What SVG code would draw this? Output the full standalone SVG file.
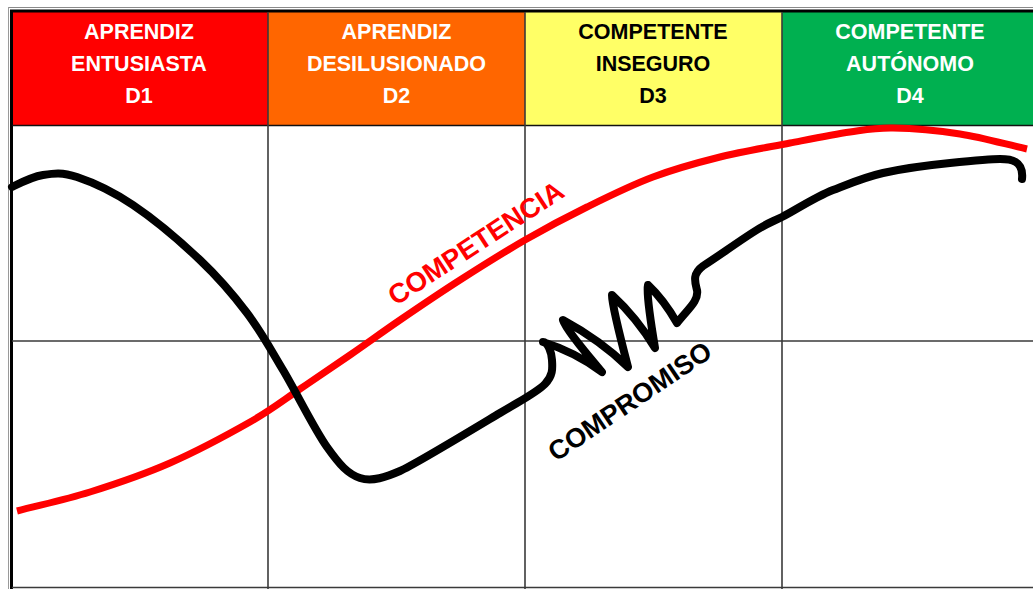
<svg xmlns="http://www.w3.org/2000/svg" width="1033" height="589" viewBox="0 0 1033 589">
<style>
.hd{font-family:"Liberation Sans",Arial,sans-serif;font-weight:bold;font-size:21.5px;text-anchor:middle}
.w{fill:#ffffff}
.k{fill:#000000}
.grid{stroke:#3a3a3a;stroke-width:1.6;fill:none}
.lbl{font-family:"Liberation Sans",Arial,sans-serif;font-weight:bold;text-anchor:middle}
</style>
<rect x="0" y="0" width="1033" height="589" fill="#ffffff"/>
<g id="frame">
<line x1="8" y1="7.5" x2="1033" y2="7.5" stroke="#8a8a8a" stroke-width="1"/>
<line x1="8.5" y1="7" x2="8.5" y2="589" stroke="#9a9a9a" stroke-width="1"/>
</g>
<g id="d1">
<rect x="12" y="12" width="256" height="113" fill="#ff0000"/>
<text class="hd w" x="139" y="39">APRENDIZ</text>
<text class="hd w" x="139" y="71">ENTUSIASTA</text>
<text class="hd w" x="139" y="103">D1</text>
</g>
<g id="d2">
<rect x="268" y="12" width="257" height="113" fill="#ff6600"/>
<text class="hd w" x="396.5" y="39">APRENDIZ</text>
<text class="hd w" x="396.5" y="71">DESILUSIONADO</text>
<text class="hd w" x="396.5" y="103">D2</text>
</g>
<g id="d3">
<rect x="525" y="12" width="257" height="113" fill="#ffff66"/>
<text class="hd k" x="653" y="39">COMPETENTE</text>
<text class="hd k" x="653" y="71">INSEGURO</text>
<text class="hd k" x="653" y="103">D3</text>
</g>
<g id="d4">
<rect x="782" y="12" width="251" height="113" fill="#00b050"/>
<text class="hd w" x="910" y="39">COMPETENTE</text>
<text class="hd w" x="910" y="71">AUTÓNOMO</text>
<text class="hd w" x="910" y="103">D4</text>
</g>
<g id="grid">
<line x1="10" y1="11" x2="1033" y2="11" stroke="#000" stroke-width="3"/>
<line x1="11.5" y1="10" x2="11.5" y2="589" stroke="#000" stroke-width="3"/>
<line x1="12" y1="125.5" x2="1033" y2="125.5" stroke="#111" stroke-width="1.6"/>
<line class="grid" x1="268" y1="12" x2="268" y2="589"/>
<line class="grid" x1="525" y1="12" x2="525" y2="589"/>
<line class="grid" x1="782" y1="12" x2="782" y2="589"/>
<line class="grid" x1="12" y1="341" x2="1033" y2="341"/>
<line class="grid" x1="12" y1="587.5" x2="1033" y2="587.5"/>
</g>
<g id="curves">
<path id="competencia" fill="none" stroke="#ff0000" stroke-width="7" stroke-linecap="butt" d="M17,511 C41.3,504.7 64.5,500 90,492 S143.3,474.7 170,463 S228.3,434.3 250,422 S283.3,400.2 300,389 S333.3,366.5 350,355 S381.7,332.5 400,320 S439.2,293.3 460,280 S503.8,252.2 525,240 S565.7,217.5 587,207 S630.8,185.3 653,177 S697.2,162.7 720,157 S768.3,147.2 790,143 S832.8,134.5 850,132 S874.7,127.7 893,128 S937.7,130.5 960,134 S1004.7,144 1027,149"/>
<path id="compromiso" fill="none" stroke="#000000" stroke-width="8" stroke-linecap="round" stroke-linejoin="round" d="M12,187 C22,182 32.2,176.7 43,175 S62,172 77,177 S112.5,191.2 133,205 S181,242 200,260 S233.2,294.7 247,313 S269.7,347.7 283,370 S314.2,429 327,447 S347.8,474 360,478 S386,477 400,471 S475.8,427.5 500,413 S536.3,392.8 545,384 S552.3,367 552,360 S548,342 543,342 Q575,352 602,372 Q566,330 563,320 Q600,340 628,367 Q612,306 612,295 Q637,318 655,348 Q646,294 648,285 Q664,300 677,323 C688,309 699,301 697,290 C695,282 692,274 703,266 C720,255 735,244 752,233 S770,223 782,217 S815,197 833,190 S865,177 883,173 S930,165 950,163 S990,159 1000,159 C1010,159 1024,160 1022,179"/>
</g>
<g id="labels">
<text class="lbl" x="481" y="251" font-size="27.5" fill="#ff0000" transform="rotate(-33 481 251)">COMPETENCIA</text>
<text class="lbl" x="635" y="409" font-size="27" fill="#000000" transform="rotate(-34 635 409)">COMPROMISO</text>
</g>
</svg>
